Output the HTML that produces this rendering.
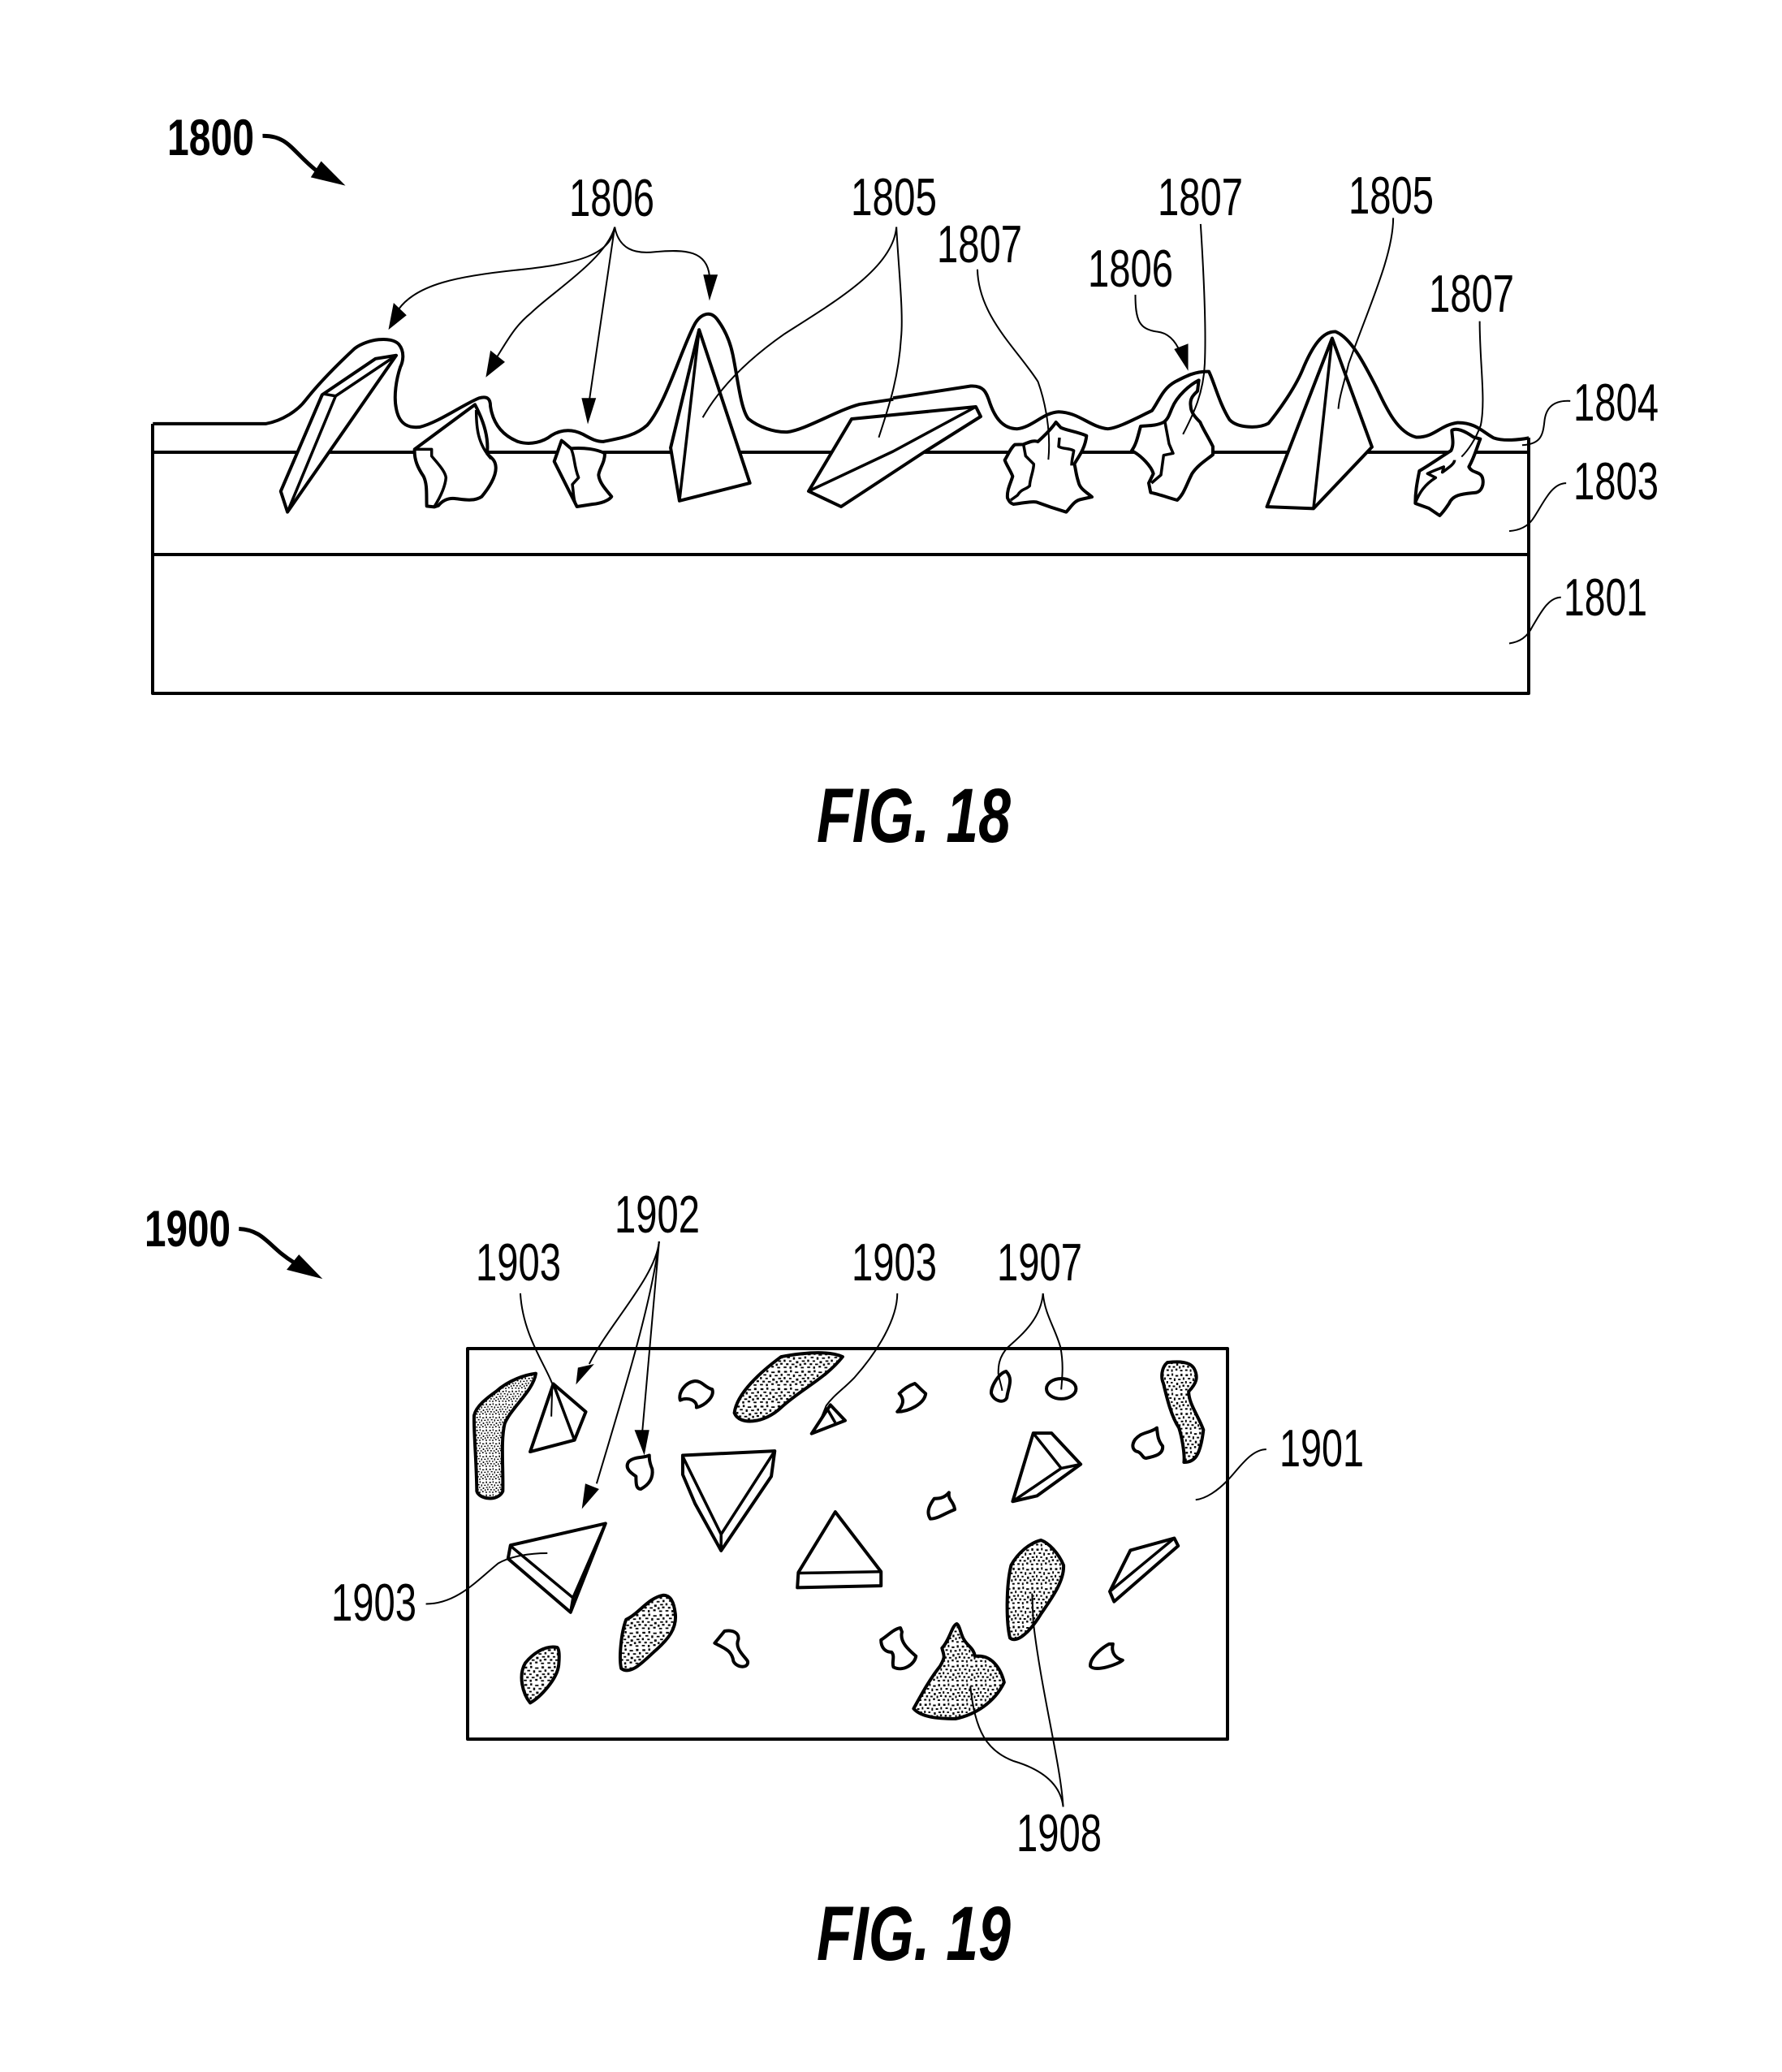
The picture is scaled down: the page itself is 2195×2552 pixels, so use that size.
<!DOCTYPE html>
<html><head><meta charset="utf-8"><style>
html,body{margin:0;padding:0;background:#fff}
svg{display:block}
path,polygon,ellipse,line{vector-effect:non-scaling-stroke;stroke-linejoin:round}
.m{fill:none;stroke:#000;stroke-width:4}
.p{fill:#fff;stroke:#000;stroke-width:4}
.i{fill:none;stroke:#000;stroke-width:3.5}
.l{fill:none;stroke:#000;stroke-width:2}
.s{fill:url(#st);stroke:#000;stroke-width:4}
.a{fill:#000;stroke:none}
text{font-family:"Liberation Sans",sans-serif;fill:#000}
.n{font-size:65px}
.b{font-size:63px;font-weight:bold}
.f{font-size:95px;font-weight:bold;font-style:italic}
</style></head><body>
<svg xmlns="http://www.w3.org/2000/svg" width="2195" height="2552" viewBox="0 0 2195 2552">
<defs>
<pattern id="st" patternUnits="userSpaceOnUse" width="48" height="48">
<rect width="48" height="48" fill="#fff"/>
<g fill="#000">
<rect x="2" y="3" width="6" height="5"/><rect x="14" y="1" width="4" height="6"/><rect x="24" y="5" width="7" height="4"/><rect x="37" y="2" width="5" height="6"/>
<rect x="8" y="12" width="6" height="4"/><rect x="20" y="13" width="4" height="7"/><rect x="31" y="14" width="6" height="4"/><rect x="43" y="11" width="4" height="6"/>
<rect x="1" y="20" width="4" height="6"/><rect x="12" y="22" width="5" height="4"/><rect x="26" y="24" width="5" height="6"/><rect x="38" y="22" width="6" height="4"/>
<rect x="6" y="30" width="5" height="5"/><rect x="17" y="31" width="6" height="4"/><rect x="33" y="31" width="4" height="6"/><rect x="42" y="29" width="5" height="5"/>
<rect x="1" y="39" width="6" height="4"/><rect x="13" y="39" width="4" height="6"/><rect x="24" y="37" width="5" height="5"/><rect x="36" y="40" width="6" height="4"/>
</g>
</pattern>
</defs>
<rect width="2195" height="2552" fill="#fff"/>

<!-- FIG 18 box -->
<path class="m" d="M188 522V854H1883V539M188 557H1883M188 683H1883"/>

<!-- z1 group -->
<g transform="translate(150,100) scale(.6378,.5102)">
<path class="m" d="M60 827L278 827C310 820 340 795 355 770C380 730 420 680 450 645C475 622 520 615 535 635C548 655 542 680 538 690C530 720 525 760 530 790C535 825 550 838 575 835C610 825 660 780 690 765C705 760 712 765 712 785C715 810 725 850 765 870C790 880 815 870 830 855C850 840 870 840 890 852C905 862 915 870 930 870C960 862 990 858 1015 830C1050 780 1080 650 1105 590C1115 565 1135 550 1150 575C1165 600 1175 630 1180 660C1190 720 1195 790 1210 815C1230 835 1260 848 1285 847C1320 842 1380 795 1425 780L1490 768"/>
<path class="p" d="M387 757L307 990L320 1040L530 662L490 670Z"/>
<path class="i" d="M390 755L413 760L530 662M413 760L320 1040"/>
<path class="p" d="M1115 600L1060 885L1077 1013L1213 970Z"/>
<path class="i" d="M1115 600L1077 1013"/>
<path class="l" d="M952 352C945 420 880 440 770 455C650 470 570 490 535 550"/>
<polygon class="a" points="515,600 525,535 550,565"/>
<path class="l" d="M952 352C935 430 830 510 790 560C760 590 745 625 725 665"/>
<polygon class="a" points="703,715 712,650 740,678"/>
<path class="l" d="M952 352L903 770"/>
<polygon class="a" points="900,828 888,765 916,765"/>
<path class="l" d="M952 352C960 405 990 418 1030 412C1090 405 1130 410 1135 470"/>
<polygon class="a" points="1135,530 1123,467 1151,467"/>
<path class="m" style="stroke-width:5" d="M272 132C320 130 330 170 375 215"/>
<polygon class="a" points="432,252 365,232 385,193"/>
</g>

<!-- P2, P3 from 3x crop -->
<g transform="translate(490,470) scale(.33333)">
<path class="p" d="M285 85L62 250C60 290 75 320 95 350C110 380 105 420 107 460L135 463L150 458C165 440 185 430 210 432C240 435 280 445 310 425C335 395 365 350 362 315C360 285 340 280 330 265C335 220 325 160 285 85Z"/>
<path class="i" d="M62 250L125 250L125 275C145 300 175 330 178 355C175 390 155 430 135 462M290 105C290 170 295 230 345 285"/>
<path class="p" d="M605 218L578 295L662 462L720 453C750 450 780 440 790 425C770 400 745 375 742 345C745 320 765 300 765 265C735 250 690 243 640 247C625 235 615 225 605 218Z"/>
<path class="i" d="M640 247C655 280 650 310 668 355L645 380C650 410 648 440 662 462"/>
</g>

<!-- z2 surface -->
<g transform="translate(1100,180) scale(.6378,.4464)">
<path class="m" d="M0 695L150 662C175 660 180 680 185 700C195 745 210 780 240 780C270 775 290 735 320 733C360 735 380 775 415 780C435 778 470 750 500 730C515 700 520 670 545 650C565 635 585 620 610 622C620 650 630 710 650 755C665 778 705 780 725 765C745 730 775 670 790 620C810 550 830 510 855 512C885 530 910 600 935 670C955 730 975 790 1010 803C1045 805 1055 770 1090 763C1125 762 1140 790 1160 805C1180 815 1210 810 1228 805"/>
<path class="p" d="M848 530L722 995L812 1000L925 830Z"/>
<path class="i" d="M848 530L812 1000"/>
</g>

<!-- P6, P7 from 3x crop -->
<g transform="translate(1210,440) scale(.33333)">
<path class="p" d="M272 240C255 265 235 285 205 312C190 305 170 315 152 322L120 323C105 335 95 360 83 380C90 400 105 420 112 440C105 465 90 490 93 520C100 535 105 540 115 543C145 540 175 532 200 535C240 550 270 560 310 572C330 550 340 530 365 525L405 516C380 495 360 485 355 460C345 430 345 410 340 395C350 375 380 340 385 290C350 275 310 270 290 260Z"/>
<path class="i" d="M285 297L282 330C300 340 320 335 338 345C335 365 330 380 330 400M152 322L160 365L190 395C190 420 175 450 175 475C160 490 145 485 130 510L105 528"/>
<path class="p" d="M800 85C770 100 720 140 700 190C690 215 685 230 670 240C640 255 610 252 585 255C575 290 570 320 552 345C590 365 625 405 632 430L615 465L622 500C650 505 690 520 720 528C745 505 750 480 775 430C795 400 820 385 852 360L852 330C835 295 815 265 805 240C790 225 770 205 770 180C765 150 785 135 795 125Z"/>
<path class="i" d="M675 240L690 320L705 355L670 362L660 435L625 465"/>
</g>

<!-- P9 from 3x crop -->
<g transform="translate(1700,500) scale(.33333)">
<path class="p" d="M265 90C280 80 310 90 345 115L370 122C355 160 350 185 328 225C340 250 370 240 378 265C385 290 375 315 355 320C310 325 270 325 255 360C245 375 235 390 220 405L180 378L130 360C130 320 135 290 145 240C180 220 230 185 262 165C275 140 265 110 265 90Z"/>
<path class="i" d="M130 358C145 320 165 290 205 265L175 250C205 235 225 230 235 225L230 245C250 230 275 215 275 200"/>
</g>

<!-- z2 leaders -->
<g transform="translate(1100,180) scale(.6378,.4464)">
<path class="l" d="M966 198C966 300 920 440 880 600C870 660 862 690 860 725"/>
<path class="l" d="M1133 483C1133 600 1145 700 1135 770C1125 810 1110 840 1098 857"/>
<path class="l" d="M468 410C468 480 475 505 510 512C530 515 545 535 555 570"/>
<polygon class="a" points="570,620 543,560 570,545"/>
<path class="l" d="M594 215C600 350 605 500 602 600C600 680 580 740 560 795"/>
<path class="l" d="M163 340C165 470 240 560 280 650C295 710 305 790 300 865"/>
<path class="l" d="M1308 703C1270 700 1260 730 1258 760C1255 800 1250 822 1215 825"/>
<path class="l" d="M1300 930C1270 930 1255 990 1235 1030C1225 1050 1210 1060 1190 1062"/>
<path class="l" d="M1290 1245C1265 1245 1250 1290 1235 1325C1225 1355 1210 1368 1190 1372"/>
</g>

<!-- flat particle -->
<path class="p" d="M1049 516L996 605L1036 624L1138 557L1208 513L1202 501Z"/>
<path class="i" d="M996 605L1100 556L1202 501"/>

<!-- 1805 leaders -->
<g transform="translate(150,100) scale(.6378,.5102)">
<path class="l" d="M1496 352C1490 450 1380 530 1280 610C1200 680 1150 750 1122 812"/>
<path class="l" d="M1496 352C1500 450 1510 560 1505 620C1500 720 1480 790 1462 860"/>
</g>

<!-- FIG 19 box -->
<path class="m" d="M576 1661H1512V2142H576Z"/>

<!-- bent stippled blob from 3x crop -->
<g transform="translate(570,1680) scale(.33333)">
<path class="s" d="M270 35C230 40 170 60 125 100C90 125 50 155 42 190C40 250 50 340 52 470C60 500 130 510 148 470C150 380 140 280 155 220C180 160 260 100 270 35Z"/>
</g>

<!-- z3 group -->
<g transform="translate(150,1430) scale(.6061,.4464)">
<path class="m" style="stroke-width:5" d="M238 187C290 190 300 240 350 280"/>
<polygon class="a" points="408,325 335,300 360,258"/>
<path class="l" d="M1092 222C1085 320 990 450 950 560"/>
<polygon class="a" points="923,617 927,570 960,560"/>
<path class="l" d="M1092 222C1075 400 1020 640 965 890"/>
<polygon class="a" points="935,960 942,890 970,905"/>
<path class="l" d="M1092 222L1058 745"/>
<polygon class="a" points="1062,812 1042,742 1072,742"/>
<path class="p" d="M877 615L830 802L920 770L943 692Z"/>
<path class="i" d="M877 615L920 770"/>
<path class="l" d="M810 365C815 480 860 560 875 615L873 705"/>
<path class="s" d="M1465 540C1440 525 1400 525 1340 540C1300 580 1250 640 1245 695C1255 730 1305 725 1340 680C1380 630 1430 600 1465 540Z"/>
<path class="p" d="M1165 607C1145 610 1130 640 1135 660C1150 650 1170 660 1168 680C1185 675 1205 650 1200 630C1185 625 1180 607 1165 607Z"/>
<path class="p" d="M1440 673L1402 752L1470 716Z"/>
<path class="i" d="M1432 680L1450 722"/>
<path class="p" d="M1072 812C1060 820 1040 815 1030 830C1020 850 1040 865 1045 870C1045 890 1045 905 1055 905C1075 890 1080 870 1078 850C1072 830 1072 820 1072 812Z"/>
<path class="p" d="M1140 812L1327 800L1320 870L1218 1075L1165 945L1140 865Z"/>
<path class="i" d="M1140 815L1218 1030L1327 800M1218 1030L1218 1075"/>
<path class="p" d="M1450 968L1375 1135L1373 1177L1543 1172L1543 1133Z"/>
<path class="i" d="M1375 1137L1543 1133"/>
<path class="p" d="M983 1000L790 1060L785 1097L912 1245Z"/>
<path class="i" d="M790 1062L917 1205L983 1000M917 1205L912 1245"/>
<path class="l" d="M618 1222C680 1222 720 1160 765 1110C790 1090 830 1082 865 1082"/>
<path class="s" d="M1100 1198C1070 1205 1050 1250 1025 1265C1015 1300 1010 1370 1015 1400C1035 1420 1060 1380 1085 1350C1110 1320 1128 1290 1125 1250C1122 1215 1115 1198 1100 1198Z"/>
<path class="s" d="M885 1342C860 1335 835 1360 820 1385C805 1420 815 1470 830 1495C850 1480 885 1430 888 1390C890 1360 888 1345 885 1342Z"/>
<path class="p" d="M1225 1297L1205 1330C1225 1345 1240 1350 1243 1380C1250 1400 1275 1400 1272 1380C1265 1365 1245 1345 1253 1320C1255 1300 1240 1293 1225 1297Z"/>
</g>

<!-- z4 group -->
<g transform="translate(1000,1500) scale(.4785,.4975)">
<path class="p" d="M265 410C250 415 235 425 225 435C240 450 235 465 220 480C250 480 290 460 293 435C280 425 272 415 265 410Z"/>
<path class="p" d="M500 380C480 385 460 420 462 435C470 455 495 460 502 445C505 420 520 400 500 380Z"/>
<ellipse class="p" cx="642" cy="423" rx="38" ry="25"/>
<path class="l" d="M595 187C590 250 540 290 505 320C480 345 480 370 480 385C482 400 488 415 490 428"/>
<path class="l" d="M595 187C600 240 625 270 640 320C648 360 645 390 642 425"/>
<path class="l" d="M220 187C220 250 170 330 110 395C80 425 55 440 37 465L20 505"/>
<path class="s" d="M915 358C900 370 898 395 905 410C915 450 925 490 945 520C955 550 960 590 958 605C985 605 1000 590 1008 525C995 490 970 460 970 430C990 410 995 395 985 375C975 355 945 355 915 358Z"/>
<path class="p" d="M888 520C875 530 860 530 845 538C825 550 820 570 835 578C850 580 850 595 860 595C885 590 905 585 903 565C890 550 890 535 888 520Z"/>
<path class="p" d="M570 533L517 702L580 688L692 610L617 533Z"/>
<path class="i" d="M570 533L642 620L517 702M642 620L692 610"/>
<path class="p" d="M353 680C340 695 325 695 315 695C300 715 295 730 305 745C325 745 345 730 368 722C365 700 350 700 353 680Z"/>
<path class="p" d="M820 823L767 925L778 950L943 812L933 793Z"/>
<path class="i" d="M767 925L933 793"/>
<path class="s" d="M590 798C560 805 530 830 513 860C500 910 500 1000 510 1040C530 1055 565 1020 590 980C615 945 650 900 648 860C635 830 610 805 590 798Z"/>
<path class="s" d="M373 1005C360 1010 355 1045 335 1065C340 1085 345 1085 330 1110C305 1140 285 1175 262 1215C280 1235 320 1240 370 1240C420 1230 470 1200 495 1150C485 1110 460 1085 430 1085L420 1085C415 1060 395 1060 385 1030C380 1015 378 1008 373 1005Z"/>
<path class="p" d="M228 1015C210 1018 195 1035 178 1045C178 1065 190 1075 205 1075C215 1085 205 1100 210 1112C235 1125 265 1105 268 1085C250 1070 225 1050 232 1025Z"/>
<path class="p" d="M765 1055C745 1065 715 1090 717 1110C730 1125 790 1105 800 1095C780 1090 770 1075 775 1055Z"/>
<path class="l" d="M647 1458C640 1400 590 1365 520 1345C450 1320 420 1270 408 1160"/>
<path class="l" d="M647 1458C640 1350 590 1170 570 1000L567 930"/>
<path class="l" d="M1170 573C1130 573 1100 620 1070 650C1045 675 1015 695 988 698"/>
</g>

<!-- Labels -->
<text class="b" x="206" y="191" textLength="107" lengthAdjust="spacingAndGlyphs">1800</text>
<text class="n" x="701" y="266" textLength="105" lengthAdjust="spacingAndGlyphs">1806</text>
<text class="n" x="1048" y="265" textLength="106" lengthAdjust="spacingAndGlyphs">1805</text>
<text class="n" x="1154" y="323" textLength="105" lengthAdjust="spacingAndGlyphs">1807</text>
<text class="n" x="1426" y="265" textLength="105" lengthAdjust="spacingAndGlyphs">1807</text>
<text class="n" x="1340" y="353" textLength="105" lengthAdjust="spacingAndGlyphs">1806</text>
<text class="n" x="1661" y="263" textLength="105" lengthAdjust="spacingAndGlyphs">1805</text>
<text class="n" x="1760" y="384" textLength="105" lengthAdjust="spacingAndGlyphs">1807</text>
<text class="n" x="1938" y="518" textLength="105" lengthAdjust="spacingAndGlyphs">1804</text>
<text class="n" x="1938" y="615" textLength="105" lengthAdjust="spacingAndGlyphs">1803</text>
<text class="n" x="1926" y="758" textLength="103" lengthAdjust="spacingAndGlyphs">1801</text>
<text class="f" x="1006" y="1037" textLength="239" lengthAdjust="spacingAndGlyphs">FIG. 18</text>
<text class="b" x="178" y="1535" textLength="106" lengthAdjust="spacingAndGlyphs">1900</text>
<text class="n" x="757" y="1518" textLength="105" lengthAdjust="spacingAndGlyphs">1902</text>
<text class="n" x="586" y="1577" textLength="105" lengthAdjust="spacingAndGlyphs">1903</text>
<text class="n" x="1049" y="1577" textLength="105" lengthAdjust="spacingAndGlyphs">1903</text>
<text class="n" x="1228" y="1577" textLength="105" lengthAdjust="spacingAndGlyphs">1907</text>
<text class="n" x="1576" y="1806" textLength="104" lengthAdjust="spacingAndGlyphs">1901</text>
<text class="n" x="408" y="1996" textLength="105" lengthAdjust="spacingAndGlyphs">1903</text>
<text class="n" x="1252" y="2280" textLength="105" lengthAdjust="spacingAndGlyphs">1908</text>
<text class="f" x="1006" y="2414" textLength="239" lengthAdjust="spacingAndGlyphs">FIG. 19</text>
</svg>
</body></html>
